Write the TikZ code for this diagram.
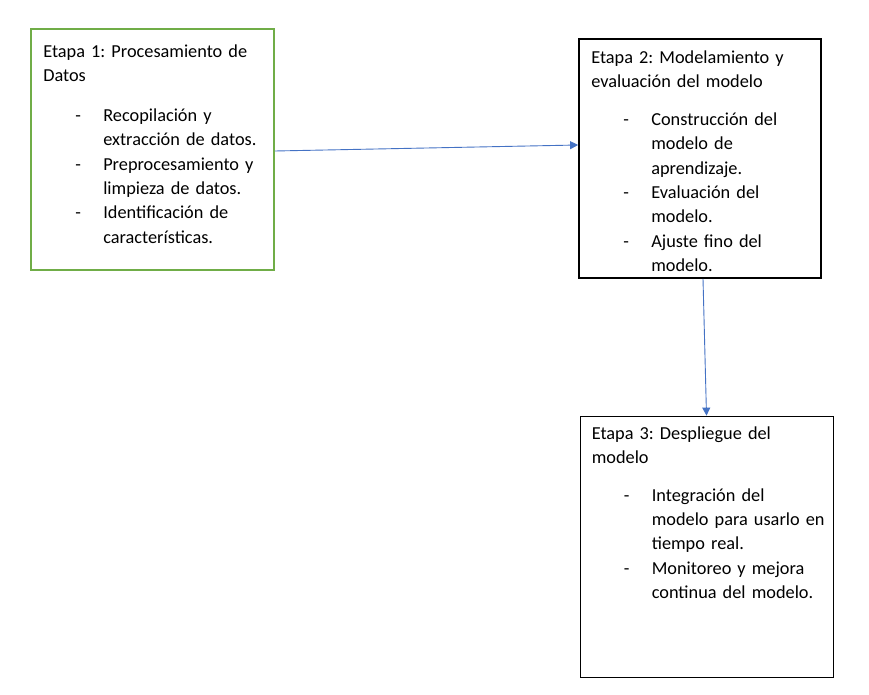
\documentclass[tikz,border=0pt]{standalone}
\usepackage{fontspec}
\setmainfont{Carlito}
\frenchspacing
\usetikzlibrary{arrows.meta}
\definecolor{stagegreen}{HTML}{70AD47}
\definecolor{linkblue}{HTML}{4472C4}
\tikzstyle{stage} = [rectangle, inner sep=0pt, draw=black]
\tikzstyle{stagetext} = [inner sep=0pt, anchor=base west, text width=235pt, align=left, font=\fontsize{18.3}{24.3}\selectfont]
\tikzstyle{arrow} = [draw=linkblue, line width=0.9pt, -{Triangle[length=8pt,width=8pt]}]
\newcommand{\dashitem}{\hspace*{32pt}\makebox[28pt][l]{-}}
\newcommand{\dashcont}{\hspace*{60pt}}

\begin{document}
\begin{tikzpicture}[x=1pt,y=-1pt]
\useasboundingbox (0,0) rectangle (869,695);

\node (etapa1) [stage, draw=stagegreen, line width=1.8pt, minimum width=243pt, minimum height=241pt] at (152.5,149.5) {};
\node (etapa2) [stage, line width=1.8pt, minimum width=242pt, minimum height=239pt] at (700,158.5) {};
\node (etapa3) [stage, line width=0.8pt, minimum width=253pt, minimum height=261pt] at (706.5,546.5) {};

\node (texto1) [stagetext] at ([xshift=13pt,yshift=-29pt]etapa1.north west) {Etapa 1: Procesamiento de\\Datos\\[16pt]
\dashitem Recopilación y\\\dashcont extracción de datos.\\
\dashitem Preprocesamiento y\\\dashcont limpieza de datos.\\
\dashitem Identificación de\\\dashcont características.};

\node (texto2) [stagetext] at ([xshift=13pt,yshift=-25pt]etapa2.north west) {Etapa 2: Modelamiento y\\evaluación del modelo\\[14pt]
\dashitem Construcción del\\\dashcont modelo de\\\dashcont aprendizaje.\\
\dashitem Evaluación del\\\dashcont modelo.\\
\dashitem Ajuste fino del\\\dashcont modelo.};

\node (texto3) [stagetext] at ([xshift=12pt,yshift=-24pt]etapa3.north west) {Etapa 3: Despliegue del\\modelo\\[13pt]
\dashitem Integración del\\\dashcont modelo para usarlo en\\\dashcont tiempo real.\\
\dashitem Monitoreo y mejora\\\dashcont continua del modelo.};

\draw [arrow] ([yshift=-1.5pt]etapa1.east) -- ([yshift=13.5pt]etapa2.west);
\draw [arrow] ([xshift=3pt]etapa2.south) -- (etapa3.north);

\end{tikzpicture}
\end{document}
